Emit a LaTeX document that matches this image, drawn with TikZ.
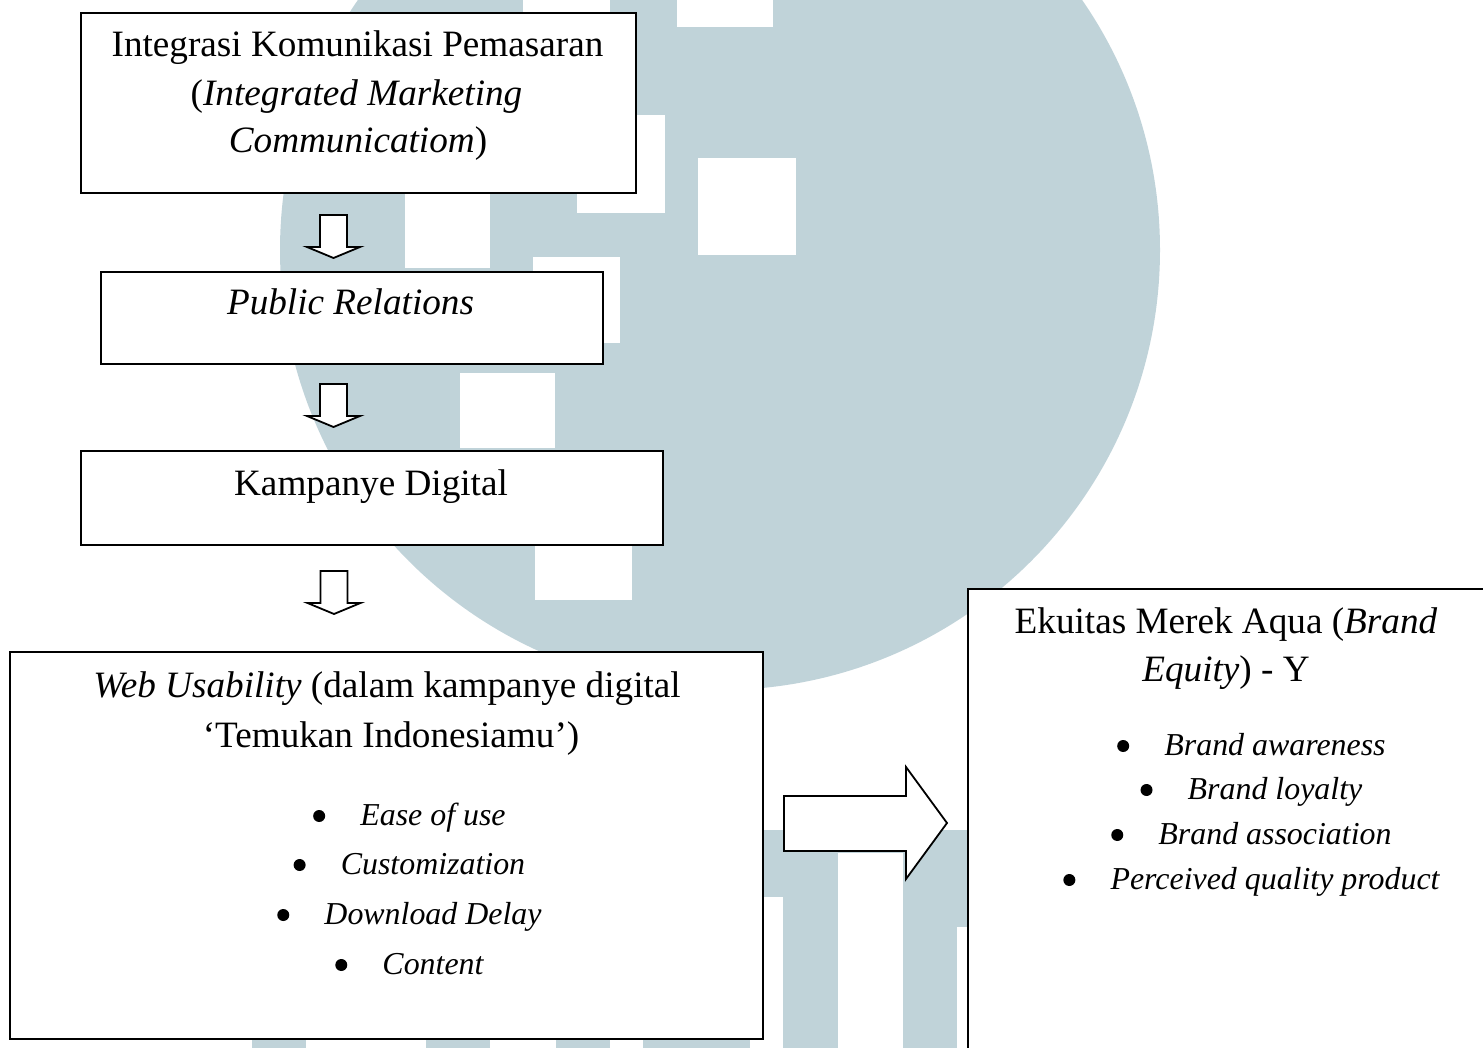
\documentclass[tikz,border=0pt]{standalone}
\usepackage{fontspec}
\setmainfont{Liberation Serif}
\definecolor{wm}{RGB}{192,211,217}
\begin{document}
\begin{tikzpicture}[x=1pt,y=-1pt,
  frame/.style={draw=black, line width=2pt, fill=white, rectangle, inner sep=0pt, anchor=north west},
  head/.style={font=\fontsize{37.2}{48}\selectfont, anchor=base, inner sep=0pt},
  item/.style={font=\fontsize{31.9}{40}\selectfont\itshape, anchor=base, inner sep=0pt},
  blockarrow/.style={draw=black, line width=1.8pt, fill=white, line join=miter},
  downarrow/.pic={\path[blockarrow] (-13.5,0) -- (13.5,0) -- (13.5,32) -- (26.5,32)
      -- (0,43) -- (-26.5,32) -- (-13.5,32) -- cycle;}
]
\useasboundingbox (0,0) rectangle (1483,1048);
\clip (0,0) rectangle (1483,1048);

% light watermark: disc with square openings and vertical legs
\fill[wm] (720,250) circle[radius=440pt];
\fill[white] (405,193) rectangle (490,268);
\fill[white] (533,257) rectangle (620,343);
\fill[white] (460,373) rectangle (555,448);
\fill[white] (535,500) rectangle (632,600);
\fill[white] (577,115) rectangle (665,213);
\fill[white] (698,158) rectangle (796,255);
\fill[white] (677,-5) rectangle (773,27);
\fill[white] (523,-5) rectangle (610,12);
\fill[wm] (783,830) rectangle (838,1048);
\fill[wm] (762,830) rectangle (783,897);
\fill[wm] (838,830) rectangle (903,853);
\fill[wm] (903,830) rectangle (957,1048);
\fill[wm] (957,830) rectangle (967,927);
\fill[wm] (252,1000) rectangle (306,1048);
\fill[wm] (426,1000) rectangle (490,1048);
\fill[wm] (556,1000) rectangle (610,1048);
\fill[wm] (643,1000) rectangle (750,1048);

% boxes
\node[frame, minimum width=555pt, minimum height=180pt] (b1) at (80,12) {};
\node[frame, minimum width=502pt, minimum height=92pt] (b2) at (100,271) {};
\node[frame, minimum width=582pt, minimum height=94pt] (b3) at (80,450) {};
\node[frame, minimum width=753pt, minimum height=387pt] (b4) at (9,651) {};
\node[frame, line width=1.6pt, minimum width=540pt, minimum height=480pt] (b5) at (967,588) {};

% box texts
\node[head] (t1a) at (357.5,57) {Integrasi Komunikasi Pemasaran};
\node[head] (t1b) at (356.5,106) {(\textit{Integrated Marketing}};
\node[head] (t1c) at (358,153) {\textit{Communicatiom})};
\node[head] (t2) at (350.5,315) {\textit{Public Relations}};
\node[head] (t3) at (371,495) {Kampanye Digital};
\node[head] (t4a) at (387,697) {\textit{Web Usability} (dalam kampanye digital};
\node[head] (t4b) at (391,747) {‘Temukan Indonesiamu’)};
\node[head] (t5a) at (1226,633) {Ekuitas Merek Aqua (\textit{Brand}};
\node[head] (t5b) at (1226,681) {\textit{Equity}) - Y};

% bullet lists
\foreach \n/\y/\t in {u1/825/Ease of use, u2/874/Customization, u3/924/Download Delay, u4/974/Content}{
  \node[item] (\n) at (433,\y) {\t};
  \fill ([xshift=-41pt,yshift=9pt]\n.base west) circle[radius=6pt];
}
\foreach \n/\y/\t in {q1/755/Brand awareness, q2/799/Brand loyalty, q3/844/Brand association, q4/889/Perceived quality product}{
  \node[item] (\n) at (1275,\y) {\t};
  \fill ([xshift=-41pt,yshift=9pt]\n.base west) circle[radius=6pt];
}

% block arrows between the boxes
\pic at (333.5,215) {downarrow};
\pic at (333.5,384) {downarrow};
\pic at (334,571) {downarrow};
\path[blockarrow] (784,796) -- (906,796) -- (906,767) -- (947,823)
  -- (906,879) -- (906,851) -- (784,851) -- cycle;
\end{tikzpicture}
\end{document}
